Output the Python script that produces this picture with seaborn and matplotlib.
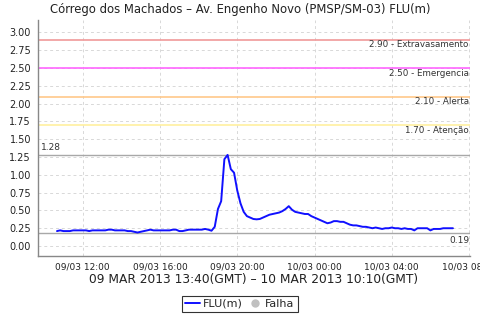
import numpy as np
import pandas as pd
import matplotlib
matplotlib.use("Agg")
import matplotlib.pyplot as plt
import matplotlib.dates as mdates
from matplotlib.lines import Line2D
import seaborn as sns

# ---- data ----
start_time = "2013-03-09 10:40"
step_minutes = 10
flu_values = [
    0.21, 0.22, 0.21, 0.21, 0.21, 0.22, 0.22, 0.22, 0.22, 0.22,
    0.21, 0.22, 0.22, 0.22, 0.22, 0.22, 0.23, 0.23, 0.22, 0.22,
    0.22, 0.22, 0.21, 0.21, 0.20, 0.19, 0.20, 0.21, 0.22, 0.23,
    0.22, 0.22, 0.22, 0.22, 0.22, 0.22, 0.23, 0.23, 0.21, 0.21,
    0.22, 0.23, 0.23, 0.23, 0.23, 0.23, 0.24, 0.23, 0.215, 0.27,
    0.52, 0.63, 1.22, 1.28, 1.08, 1.03, 0.78, 0.60, 0.48, 0.42,
    0.40, 0.38, 0.375, 0.38, 0.40, 0.42, 0.44, 0.45, 0.46, 0.47,
    0.49, 0.52, 0.56, 0.51, 0.48, 0.47, 0.46, 0.45, 0.45, 0.42,
    0.40, 0.38, 0.36, 0.34, 0.32, 0.33, 0.35, 0.35, 0.34, 0.34,
    0.32, 0.30, 0.29, 0.29, 0.28, 0.27, 0.27, 0.26, 0.25, 0.26,
    0.25, 0.24, 0.25, 0.25, 0.26, 0.25, 0.25, 0.24, 0.25, 0.24,
    0.24, 0.22, 0.25, 0.25, 0.25, 0.25, 0.22, 0.24, 0.24, 0.24,
    0.25, 0.25, 0.25, 0.25,
]
threshold_values = [2.90, 2.50, 2.10, 1.70]
threshold_names = ["Extravasamento", "Emergencia", "Alerta", "Atenção"]
threshold_colors = ["#f09a9a", "#ff66ff", "#ffc88a", "#fff0a0"]
max_label = "1.28"
min_label = "0.19"
title_text = "Córrego dos Machados – Av. Engenho Novo (PMSP/SM-03) FLU(m)"
xlabel_text = "09 MAR 2013 13:40(GMT) – 10 MAR 2013 10:10(GMT)"
legend_labels = ["FLU(m)", "Falha"]

times = pd.date_range(start_time, periods=len(flu_values), freq=f"{step_minutes}min")
df = pd.DataFrame({"time": times, "FLU": flu_values})

sns.set_style("white")
plt.rcParams["font.family"] = ["DejaVu Sans"]

fig = plt.figure(figsize=(4.8, 3.2), dpi=100)
ax = fig.add_axes([38 / 480, 1 - 256 / 320, (470 - 38) / 480, (256 - 20) / 320])

# thresholds
for v, name, c in zip(threshold_values, threshold_names, threshold_colors):
    ax.axhline(v, color=c, lw=1.2, zorder=2)
    ax.text(0.997, v - 0.075, f"{v:.2f} - {name}", transform=ax.get_yaxis_transform(),
            ha="right", va="center", fontsize=6.3, color="#333333")

vmax = float(max_label)
vmin = float(min_label)
ax.axhline(vmax, color="#a8a8a8", lw=1.0, zorder=2)
ax.axhline(vmin, color="#a8a8a8", lw=1.0, zorder=2)
ax.text(0.006, vmax + 0.11, max_label, transform=ax.get_yaxis_transform(),
        ha="left", va="center", fontsize=6.5, color="#333333")
ax.text(0.998, vmin - 0.11, min_label, transform=ax.get_yaxis_transform(),
        ha="right", va="center", fontsize=6.5, color="#333333")

sns.lineplot(data=df, x="time", y="FLU", ax=ax, color="#1010ff", lw=1.4, zorder=3)

ax.set_ylim(-0.14, 3.175)
ax.set_yticks(np.arange(0, 3.01, 0.25))
ax.yaxis.set_major_formatter(matplotlib.ticker.FormatStrFormatter("%.2f"))
ax.set_xlim(pd.Timestamp("2013-03-09 09:41"), pd.Timestamp("2013-03-10 08:03"))
ax.xaxis.set_major_locator(mdates.HourLocator(byhour=[0, 4, 8, 12, 16, 20]))
ax.xaxis.set_major_formatter(mdates.DateFormatter("%d/%m %H:%M"))

ax.grid(True, color="#d8d8d8", ls=(0, (3, 3)), lw=0.7)
for s in ["top", "right"]:
    ax.spines[s].set_visible(False)
for s in ["left", "bottom"]:
    ax.spines[s].set_color("#888888")
    ax.spines[s].set_linewidth(1.0)
ax.tick_params(axis="both", which="major", length=3, width=0.8, color="#888888",
               labelcolor="#222222", pad=2)
ax.tick_params(axis="y", labelsize=7)
ax.tick_params(axis="x", labelsize=6.5)

ax.set_xlabel(xlabel_text, fontsize=8.8, color="#222222", labelpad=1)
ax.set_ylabel("")
fig.text(0.5, 1 - 9 / 320, title_text, ha="center", va="center", fontsize=8.4, color="#222222")

handles = [Line2D([], [], color="#1010ff", lw=1.4),
           Line2D([], [], color="#c0c0c0", marker="o", ls="none", markersize=5)]
leg = fig.legend(handles, legend_labels, loc="center", bbox_to_anchor=(0.5, 1 - 304 / 320),
                 ncol=2, frameon=True, fancybox=False, fontsize=8, handlelength=1.3,
                 handletextpad=0.3, columnspacing=0.4, borderpad=0.3, borderaxespad=0)
leg.get_frame().set_edgecolor("black")
leg.get_frame().set_linewidth(0.8)

fig.savefig("out.png", dpi=100)
